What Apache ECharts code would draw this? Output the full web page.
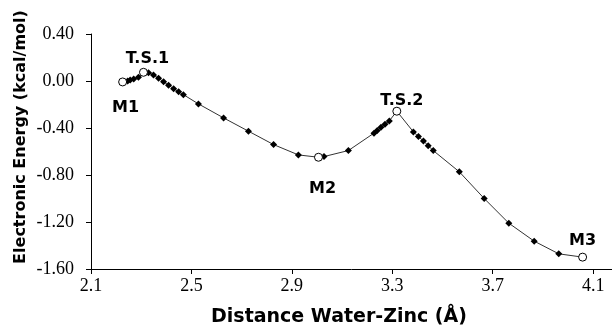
<!DOCTYPE html>
<html>
<head>
<meta charset="utf-8">
<script src="https://cdn.jsdelivr.net/npm/echarts@6/dist/echarts.min.js"></script>
<style>
  html, body { margin: 0; padding: 0; background: #fff; }
  #main { width: 612px; height: 329px; }
</style>
</head>
<body>
<div id="main"></div>
<script>
// scan points along the path (Å, kcal/mol)
var distance = [2.226, 2.246, 2.256, 2.270, 2.289, 2.309, 2.329, 2.349, 2.369, 2.389,
  2.409, 2.429, 2.449, 2.468, 2.528, 2.628, 2.727, 2.827, 2.926, 3.006,
  3.028, 3.125, 3.227, 3.240, 3.255, 3.271, 3.288, 3.318, 3.384, 3.404,
  3.424, 3.443, 3.463, 3.567, 3.666, 3.764, 3.865, 3.963, 4.058];
var energy = [-0.008, 0.000, 0.009, 0.017, 0.031, 0.074, 0.071, 0.051, 0.023, -0.006,
  -0.036, -0.065, -0.091, -0.116, -0.195, -0.314, -0.427, -0.541, -0.629, -0.649,
  -0.643, -0.592, -0.444, -0.422, -0.393, -0.368, -0.340, -0.257, -0.433, -0.473,
  -0.510, -0.550, -0.592, -0.773, -1.000, -1.210, -1.363, -1.471, -1.499];

// stationary points (open circles)
var statNames = ['M1', 'T.S.1', 'M2', 'T.S.2', 'M3'];
var statX = [2.226, 2.309, 3.006, 3.318, 4.058];
var statY = [-0.008, 0.074, -0.649, -0.257, -1.499];

var xTicks = [2.1, 2.5, 2.9, 3.3, 3.7, 4.1];

var labelPos = {
  'M1': { position: 'bottom', offset: [3, 8] },
  'T.S.1': { position: 'top', offset: [4, 4] },
  'M2': { position: 'bottom', offset: [4, 14] },
  'T.S.2': { position: 'top', offset: [5, 7] },
  'M3': { position: 'top', offset: [0, 1] }
};

var serif = "'Liberation Serif', 'Times New Roman', Times, serif";
var heavy = "'DejaVu Sans', sans-serif";

var myChart = echarts.init(document.getElementById('main'));

var lineData = [];
for (var i = 0; i < distance.length; i++) {
  lineData.push([distance[i], energy[i]]);
}
var statData = [];
for (var j = 0; j < statNames.length; j++) {
  statData.push({
    name: statNames[j],
    value: [statX[j], statY[j]],
    label: labelPos[statNames[j]]
  });
}

var option = {
  animation: false,
  grid: { left: 91, right: 0, top: 34, bottom: 60 },
  // axis titles
  graphic: [
    {
      type: 'text',
      x: 339, y: 317,
      style: {
        text: 'Distance Water-Zinc (Å)',
        font: 'bold 19px ' + heavy,
        fill: '#000',
        align: 'center',
        verticalAlign: 'middle'
      }
    },
    {
      type: 'text',
      x: 20.5, y: 137,
      rotation: Math.PI / 2,
      style: {
        text: 'Electronic Energy (kcal/mol)',
        font: 'bold 16px ' + heavy,
        fill: '#000',
        align: 'center',
        verticalAlign: 'middle'
      }
    }
  ],
  xAxis: {
    type: 'value',
    min: 2.1,
    max: 4.175,
    splitLine: { show: false },
    axisLine: { onZero: false, lineStyle: { color: '#000', width: 1 } },
    axisTick: { customValues: xTicks, length: 5, lineStyle: { color: '#000' } },
    axisLabel: {
      customValues: xTicks,
      margin: 8,
      fontFamily: serif,
      fontSize: 18,
      color: '#000',
      formatter: function (v) { return v.toFixed(1); }
    }
  },
  yAxis: {
    type: 'value',
    min: -1.6,
    max: 0.4,
    interval: 0.4,
    splitLine: { show: false },
    axisLine: { show: true, lineStyle: { color: '#000', width: 1 } },
    axisTick: { show: true, length: 5, lineStyle: { color: '#000' } },
    axisLabel: {
      margin: 17,
      fontFamily: serif,
      fontSize: 18,
      color: '#000',
      formatter: function (v) { return v.toFixed(2); }
    }
  },
  series: [
    {
      type: 'line',
      data: lineData,
      symbol: 'diamond',
      symbolSize: 7,
      showAllSymbol: true,
      lineStyle: { color: '#333', width: 1 },
      itemStyle: { color: '#000' },
      z: 2
    },
    {
      type: 'scatter',
      data: statData,
      symbol: 'circle',
      symbolSize: 8,
      itemStyle: { color: '#fff', opacity: 1, borderColor: '#000', borderWidth: 1 },
      label: {
        show: true,
        formatter: '{b}',
        fontFamily: heavy,
        fontWeight: 'bold',
        fontSize: 16,
        color: '#000'
      },
      z: 3
    }
  ]
};
myChart.setOption(option);
</script>
</body>
</html>
